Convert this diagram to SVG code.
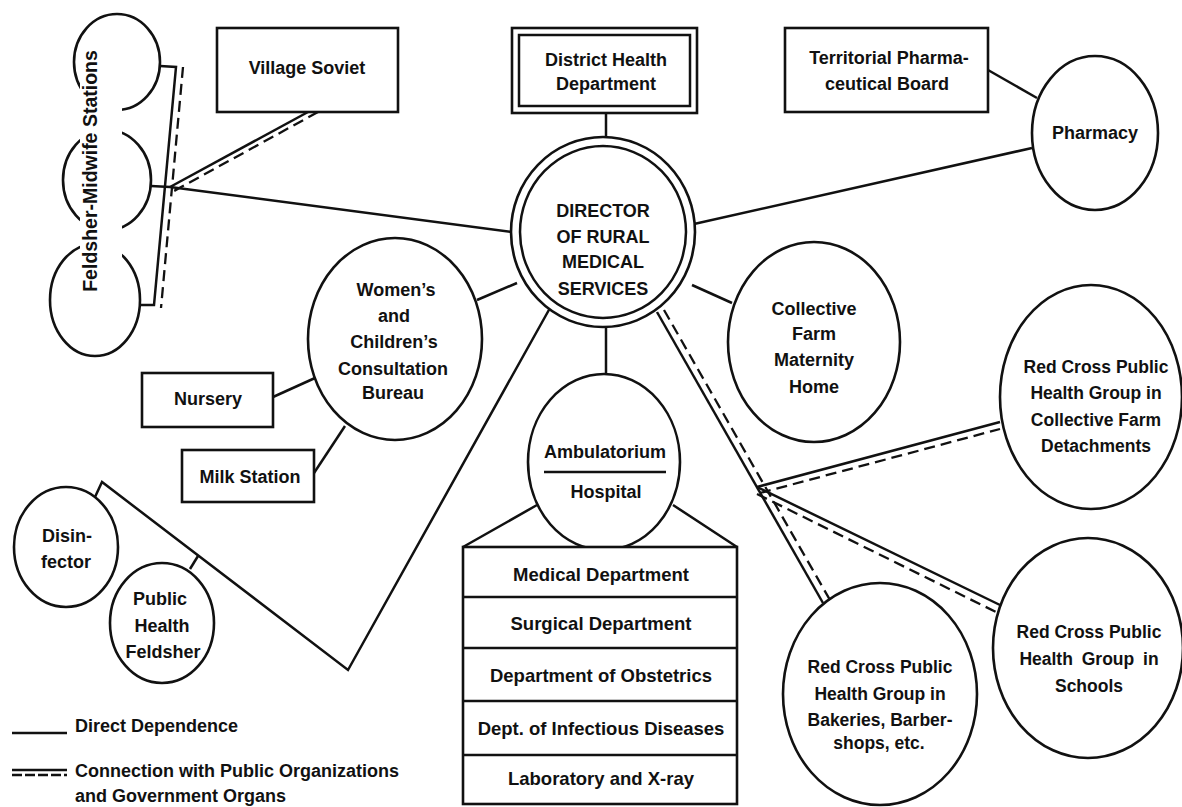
<svg xmlns="http://www.w3.org/2000/svg" width="1182" height="807" viewBox="0 0 1182 807">
<style>
.s{fill:none;stroke:#111;stroke-width:2.5;stroke-linejoin:miter}
.d{fill:none;stroke:#111;stroke-width:2.3;stroke-dasharray:11 6}
.n{fill:#fff;stroke:#111;stroke-width:2.6}
text{font-family:"Liberation Sans",Arial,sans-serif;font-weight:bold;font-size:18px;fill:#111;text-anchor:middle}
.r{font-size:17.5px}
.l{text-anchor:start}
</style>
<rect width="1182" height="807" fill="#fff"/>
<g id="connectors">
<path class="s" d="M160,66 L176,67 L154,305 L140,305"/>
<path class="d" d="M183,67 L161,308"/>
<path class="s" d="M151,186 L170,187 L512,232"/>
<path class="s" d="M308,112 L170,187"/>
<path class="d" d="M318,112 L174,191"/>
<path class="s" d="M606,113 V137"/>
<path class="s" d="M988,70 L1037,98"/>
<path class="s" d="M1032,148 L694,224"/>
<path class="s" d="M517,283 L477,300"/>
<path class="s" d="M692,285 L732,303"/>
<path class="s" d="M606,328 V374"/>
<path class="s" d="M273,397 L315,378"/>
<path class="s" d="M314,473 L345,426"/>
<path class="s" d="M95,497 L102,482 L348,670 L550,308"/>
<path class="s" d="M190,569 L198,556"/>
<path class="s" d="M537,505 L463,547 M673,505 L737,547"/>
<path class="s" d="M657,312 L823,603"/>
<path class="d" d="M664,310 L830,600"/>
<path class="s" d="M757,487 L1000,422"/>
<path class="d" d="M760,493 L1000,429"/>
<path class="s" d="M757,487 L1000,605"/>
<path class="d" d="M757,494 L996,612"/>
</g>
<g id="feldsher-midwife-stations">
<ellipse class="n" cx="117" cy="62" rx="43" ry="48"/>
<ellipse class="n" cx="107" cy="180" rx="44" ry="50"/>
<ellipse class="n" cx="95" cy="300" rx="45" ry="56"/>
<rect x="80" y="46" width="42" height="252" fill="#fff"/>
<text transform="translate(97,171) rotate(-90)" style="font-size:19.5px">Feldsher-Midwife Stations</text>
</g>
<g id="village-soviet">
<rect class="n" x="217" y="28" width="181" height="84"/>
<text x="307" y="74">Village Soviet</text>
</g>
<g id="district-health-department">
<rect class="n" x="512" y="28" width="185" height="85"/>
<rect class="s" x="519" y="35" width="171" height="71"/>
<text x="606" y="66">District Health</text>
<text x="606" y="90">Department</text>
</g>
<g id="territorial-pharmaceutical-board">
<rect class="n" x="785" y="28" width="203" height="84"/>
<text x="889" y="64">Territorial Pharma-</text>
<text x="887" y="90">ceutical Board</text>
</g>
<g id="pharmacy">
<ellipse class="n" cx="1095" cy="133" rx="63" ry="77"/>
<text x="1095" y="139">Pharmacy</text>
</g>
<g id="director">
<ellipse class="n" cx="603" cy="232" rx="92" ry="95"/>
<ellipse class="s" cx="603" cy="232" rx="83" ry="86"/>
<text x="603" y="217">DIRECTOR</text>
<text x="603" y="243">OF RURAL</text>
<text x="603" y="268">MEDICAL</text>
<text x="603" y="295">SERVICES</text>
</g>
<g id="womens-childrens-bureau">
<ellipse class="n" cx="395" cy="339" rx="87" ry="101"/>
<text x="396" y="296">Women’s</text>
<text x="394" y="322">and</text>
<text x="394" y="348">Children’s</text>
<text x="393" y="375">Consultation</text>
<text x="393" y="399">Bureau</text>
</g>
<g id="collective-farm-maternity-home">
<ellipse class="n" cx="814" cy="342" rx="86" ry="100"/>
<text x="814" y="315">Collective</text>
<text x="814" y="340">Farm</text>
<text x="814" y="366">Maternity</text>
<text x="814" y="393">Home</text>
</g>
<g id="nursery">
<rect class="n" x="142" y="373" width="131" height="54"/>
<text x="208" y="405">Nursery</text>
</g>
<g id="milk-station">
<rect class="n" x="182" y="450" width="132" height="52"/>
<text x="250" y="483">Milk Station</text>
</g>
<g id="disinfector">
<ellipse class="n" cx="66" cy="547" rx="52" ry="60"/>
<text x="67" y="542">Disin-</text>
<text x="66" y="568">fector</text>
</g>
<g id="public-health-feldsher">
<ellipse class="n" cx="162" cy="623" rx="52" ry="60"/>
<text x="160" y="605">Public</text>
<text x="162" y="632">Health</text>
<text x="163" y="658">Feldsher</text>
</g>
<g id="ambulatorium-hospital">
<ellipse class="n" cx="604" cy="462" rx="76" ry="88"/>
<text x="605" y="458">Ambulatorium</text>
<path class="s" d="M544,472 H666"/>
<text x="606" y="498">Hospital</text>
</g>
<g id="hospital-departments">
<rect class="n" x="463" y="547" width="274" height="257"/>
<path class="s" d="M463,597 H737 M463,648 H737 M463,701 H737 M463,755 H737"/>
<text x="601" y="581" style="font-size:18.5px">Medical Department</text>
<text x="601" y="630" style="font-size:18.5px">Surgical Department</text>
<text x="601" y="682" style="font-size:18.5px">Department of Obstetrics</text>
<text x="601" y="735" style="font-size:18.5px">Dept. of Infectious Diseases</text>
<text x="601" y="785" style="font-size:18.5px">Laboratory and X-ray</text>
</g>
<g id="red-cross-collective-farm">
<ellipse class="n" cx="1091" cy="397" rx="91" ry="112"/>
<text class="r" x="1096" y="373">Red Cross Public</text>
<text class="r" x="1096" y="399">Health Group in</text>
<text class="r" x="1096" y="426">Collective Farm</text>
<text class="r" x="1096" y="452">Detachments</text>
</g>
<g id="red-cross-schools">
<ellipse class="n" cx="1088" cy="648" rx="95" ry="110"/>
<text class="r" x="1089" y="638">Red Cross Public</text>
<text class="r" x="1089" y="665" style="word-spacing:4px">Health Group in</text>
<text class="r" x="1089" y="692">Schools</text>
</g>
<g id="red-cross-bakeries">
<ellipse class="n" cx="880" cy="694" rx="97" ry="111"/>
<text class="r" x="880" y="673">Red Cross Public</text>
<text class="r" x="880" y="700">Health Group in</text>
<text class="r" x="880" y="726">Bakeries, Barber-</text>
<text class="r" x="879" y="749">shops, etc.</text>
</g>
<g id="legend">
<path class="s" d="M12,733 H67"/>
<text class="l" x="75" y="732">Direct Dependence</text>
<path class="s" d="M12,770 H67"/>
<path class="d" d="M12,775 H67" style="stroke-dasharray:10 3"/>
<text class="l" x="75" y="777">Connection with Public Organizations</text>
<text class="l" x="75" y="802">and Government Organs</text>
</g>
</svg>
